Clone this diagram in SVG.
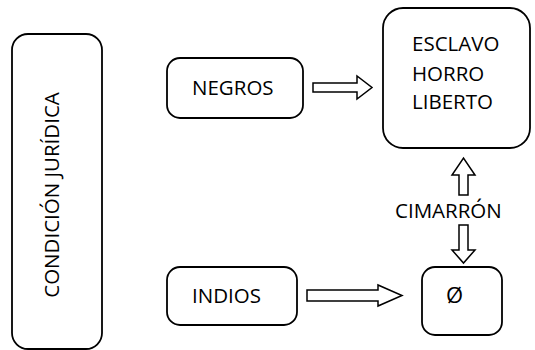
<svg xmlns="http://www.w3.org/2000/svg" width="535" height="350" viewBox="0 0 535 350">
<style>
.box{fill:#fff;stroke:#000;stroke-width:1.8}
.arr{fill:#fff;stroke:#000;stroke-width:1.5;stroke-linejoin:miter}
.t{font-family:"Open Sans","Liberation Sans",sans-serif;font-size:20.5px;fill:#000}
</style>
<rect width="535" height="350" fill="#fff"/>
<g id="condicion">
<rect class="box" x="12" y="34" width="90" height="315" rx="16"/>
<text class="t" transform="translate(58.5,195) rotate(-90)" text-anchor="middle">CONDICIÓN JURÍDICA</text>
</g>
<g id="negros">
<rect class="box" x="167" y="58" width="136" height="60" rx="13"/>
<text class="t" x="192" y="95">NEGROS</text>
</g>
<g id="estado">
<rect class="box" x="383" y="8" width="147" height="140" rx="20"/>
<text class="t" x="412" y="51">ESCLAVO</text>
<text class="t" x="412" y="81">HORRO</text>
<text class="t" x="412" y="109">LIBERTO</text>
</g>
<g id="indios">
<rect class="box" x="167" y="267" width="130" height="58" rx="13"/>
<text class="t" x="192" y="303">INDIOS</text>
</g>
<g id="nulo">
<rect class="box" x="422" y="267" width="80" height="68" rx="13"/>
<text class="t" x="446" y="303" style="font-size:22px">Ø</text>
</g>
<g id="cimarron">
<text class="t" x="395" y="218">CIMARRÓN</text>
</g>
<g id="connectors">
<polygon class="arr" points="313,83 357,83 357,76 372,87.5 357,99 357,92 313,92"/>
<polygon class="arr" points="307,290 378,290 378,285 402,295.5 378,306 378,301 307,301"/>
<polygon class="arr" points="459,195 459,175 452,175 463.5,158 475,175 468,175 468,195"/>
<polygon class="arr" points="459,225 468,225 468,250 475,250 463.5,263 452,250 459,250"/>
</g>
</svg>
